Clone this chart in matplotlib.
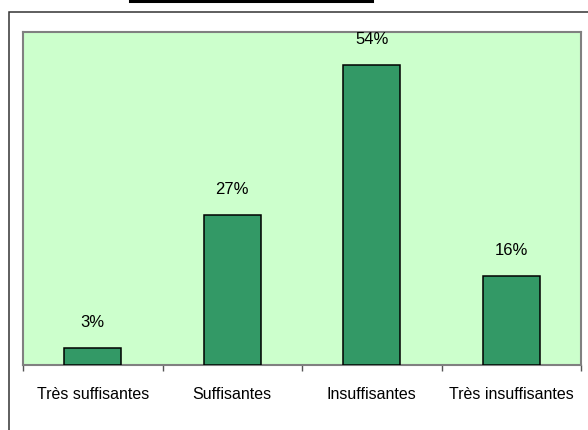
import matplotlib
matplotlib.use("Agg")
import matplotlib.pyplot as plt
from matplotlib.patches import Rectangle
from matplotlib.lines import Line2D

categories = ["Très suffisantes", "Suffisantes", "Insuffisantes", "Très insuffisantes"]
values = [3, 27, 54, 16]
labels = ["3%", "27%", "54%", "16%"]

plt.rcParams['font.family'] = ['Liberation Sans', 'DejaVu Sans']

W, H = 588, 430
fig = plt.figure(figsize=(W / 100, H / 100), dpi=100)

# outer frame (runs off the right and bottom edges)
fig.add_artist(Rectangle((9 / W, -0.05), 1.0, (H - 12) / H + 0.05, transform=fig.transFigure,
                         fill=False, edgecolor="#333333", linewidth=1.1))
# black bar at top
fig.add_artist(Line2D([130 / W, 372 / W], [1 - 1 / H, 1 - 1 / H], transform=fig.transFigure,
                      color="black", linewidth=2.2))

ax = fig.add_axes([23 / W, (H - 365) / H, 558 / W, 333 / H])
ax.set_facecolor("#CCFFCC")

x = range(len(categories))
bars = ax.bar(x, values, width=0.41, color="#339966", edgecolor="black", linewidth=1.1, zorder=3)
for b, lab in zip(bars, labels):
    ax.annotate(lab, (b.get_x() + b.get_width() / 2, b.get_height()), xytext=(0, 13),
                textcoords="offset points", ha="center", va="bottom", fontsize=12)

ax.set_xlim(-0.5, len(categories) - 0.5)
ax.set_ylim(0, 60)
ax.set_yticks([])

ax.set_xticks([i - 0.5 for i in range(len(categories) + 1)])
ax.set_xticklabels([])
ax.tick_params(axis="x", which="major", length=4.5, width=1, color="#555555", direction="out")
ax.set_xticks(list(x), minor=True)
ax.set_xticklabels(categories, minor=True, fontsize=11.5)
ax.tick_params(axis="x", which="minor", length=0, pad=16)

for s in ax.spines.values():
    s.set_color("#808080")
    s.set_linewidth(1.5)

fig.savefig("out.png", dpi=100)
